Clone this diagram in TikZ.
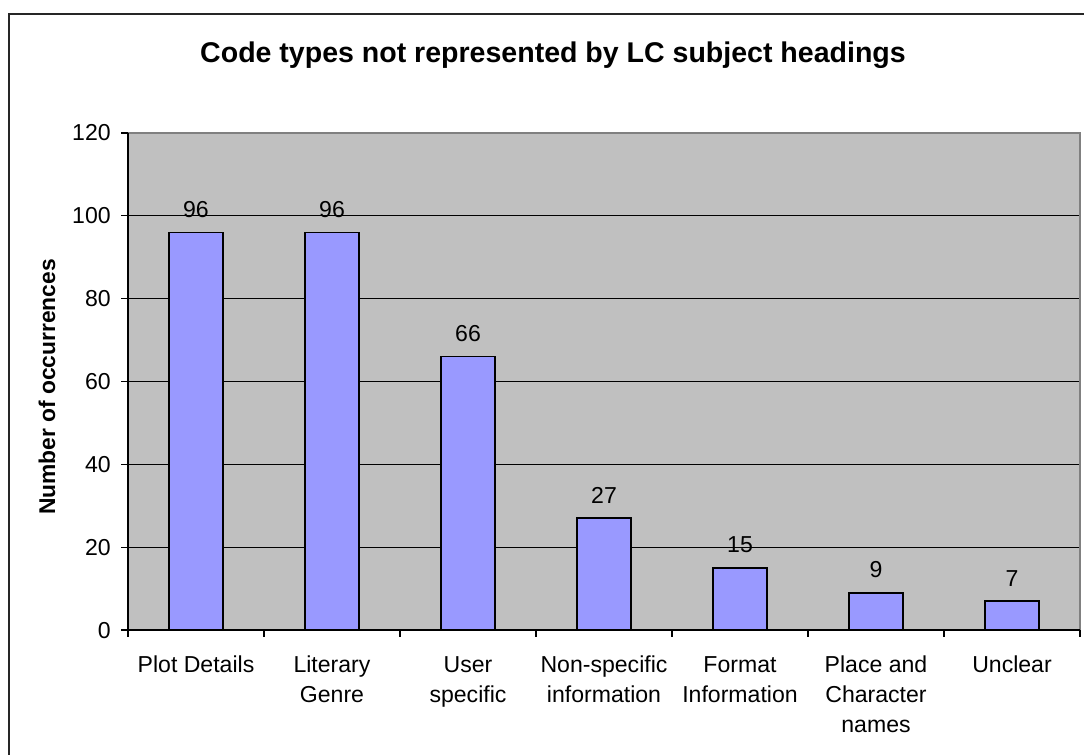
\documentclass[tikz,border=0pt]{standalone}
\usepackage{fontspec}
\setmainfont{Liberation Sans}
\definecolor{plotgray}{HTML}{C0C0C0}
\definecolor{barblue}{HTML}{9999FF}
\definecolor{bordergray}{HTML}{808080}
\begin{document}
\begin{tikzpicture}[x=0.75pt,y=-0.75pt,
  frameline/.style={line width=1.5pt,draw=black!85},
  gridline/.style={line width=0.75pt,draw=black},
  axisline/.style={line width=0.9pt,draw=black},
  barbox/.style={fill=barblue,draw=black,line width=1.2pt},
  ticklabel/.style={font=\fontsize{17.3}{20}\selectfont,inner sep=0pt,anchor=base east},
  vallabel/.style={font=\fontsize{17.3}{20}\selectfont,inner sep=0pt,anchor=base},
  catlabel/.style={font=\fontsize{17.3}{22.5}\selectfont,inner sep=0pt,anchor=north,align=center},
  charttitle/.style={font=\bfseries\fontsize{21.4}{24}\selectfont,inner sep=0pt,anchor=base},
  axistitle/.style={font=\bfseries\fontsize{17.1}{20}\selectfont,inner sep=0pt,anchor=base,rotate=90}]
\useasboundingbox (0,0) rectangle (1084,755);
\clip (0,0) rectangle (1084,755);
% outer chart frame
\coordinate (fbl) at (8.5,780);
\coordinate (ftl) at (8.5,14);
\coordinate (ftr) at (1110,14);
\draw[frameline] (fbl) -- (ftl) -- (ftr);
% plot area
\coordinate (pbl) at (128,630);
\coordinate (ptl) at (128,133);
\coordinate (ptr) at (1080,133);
\coordinate (pbr) at (1080,630);
\fill[plotgray] (pbl) rectangle (ptr);
\foreach \v in {20,40,60,80,100} {
  \draw[gridline] (128,{630-\v*4.1417}) -- (1080,{630-\v*4.1417});
}
\draw[bordergray,line width=1.2pt] (ptl) -- (ptr) -- (pbr);
% bars
\foreach \i/\v/\name in {0/96/b1,1/96/b2,2/66/b3,3/27/b4,4/15/b5,5/9/b6,6/7/b7} {
  \pgfmathsetmacro{\cx}{196+136*\i}
  \pgfmathsetmacro{\ty}{630-\v*4.1417}
  \draw[barbox] ({\cx-27},630) rectangle ({\cx+27},\ty);
  \node[vallabel] (v\name) at (\cx,{\ty-15}) {\v};
}
% axes
\draw[axisline] (ptl) -- (pbl) -- (pbr);
\foreach \v in {0,20,40,60,80,100,120} {
  \draw[axisline] (121,{630-\v*4.1417}) -- (128,{630-\v*4.1417});
  \node[ticklabel] (t\v) at (111,{630-\v*4.1417+8}) {\v};
}
\foreach \k in {0,...,7} {
  \draw[axisline] ({128+136*\k},630) -- ({128+136*\k},637);
}
% category labels
\node[catlabel] (c1) at (196,656) {Plot Details};
\node[catlabel] (c2) at (332,656) {Literary\\Genre};
\node[catlabel] (c3) at (468,656) {User\\specific};
\node[catlabel] (c4) at (604,656) {Non-specific\\information};
\node[catlabel] (c5) at (740,656) {Format\\Information};
\node[catlabel] (c6) at (876,656) {Place and\\Character\\names};
\node[catlabel] (c7) at (1012,656) {Unclear};
% titles
\node[charttitle] (title) at (553,63) {Code types not represented by LC subject headings};
\node[axistitle] (ytitle) at (55,387) {Number of occurrences};
\end{tikzpicture}
\end{document}
